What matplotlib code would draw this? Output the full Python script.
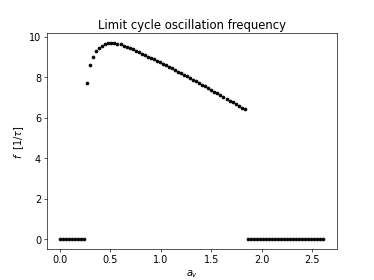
import numpy as np
import matplotlib
matplotlib.use("Agg")
import matplotlib.pyplot as plt

plt.rcParams['font.size'] = 12

# coupling strength a_v, sampled every 0.03
a_v = np.round(np.arange(0, 2.62, 0.03), 2)

# limit cycle frequency (0 where no oscillation)
f_zero_left = [0.0] * 9          # a_v = 0.00 .. 0.24
f_cycle = [7.70, 8.60, 9.03, 9.29, 9.46, 9.57, 9.64, 9.68, 9.70, 9.69,
           9.67, 9.63, 9.57, 9.51, 9.44, 9.38, 9.31, 9.24, 9.17, 9.10,
           9.03, 8.96, 8.89, 8.82, 8.75, 8.67, 8.60, 8.52, 8.45, 8.37,
           8.29, 8.21, 8.13, 8.05, 7.97, 7.89, 7.81, 7.73, 7.64, 7.56,
           7.47, 7.39, 7.30, 7.21, 7.12, 7.03, 6.94, 6.85, 6.76, 6.67,
           6.58, 6.49, 6.46]        # a_v = 0.27 .. 1.83
f_zero_right = [0.0] * 26        # a_v = 1.86 .. 2.61

freq = np.array(f_zero_left + f_cycle + f_zero_right)

fig, ax = plt.subplots(figsize=(6.4, 4.8), dpi=58.44)
ax.plot(a_v, freq, '.', color='k', markersize=7)
ax.set_title("Limit cycle oscillation frequency")
ax.set_xlabel("$a_v$")
ax.set_ylabel(r"$f$  [1/$\tau$]")

fig.savefig("out.png", dpi=58.44)
